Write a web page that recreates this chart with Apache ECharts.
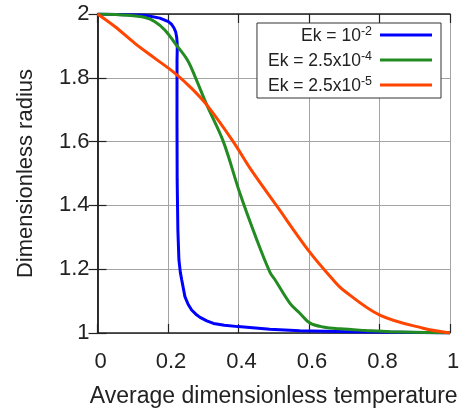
<!DOCTYPE html>
<html>
<head>
<meta charset="utf-8">
<script src="https://cdn.jsdelivr.net/npm/echarts@6/dist/echarts.min.js"></script>
<style>html,body{margin:0;padding:0;background:#fff}#c{width:465px;height:413px}</style>
</head>
<body>
<div id="c"></div>
<script>
var xTicks = [0, 0.2, 0.4, 0.6, 0.8, 1];
var yTicks = [1, 1.2, 1.4, 1.6, 1.8, 2];

var seriesNames = ['Ek = 10^-2', 'Ek = 2.5x10^-4', 'Ek = 2.5x10^-5'];
var legendBase = ['Ek = 10', 'Ek = 2.5x10', 'Ek = 2.5x10'];
var legendSup = ['-2', '-4', '-5'];

var blueX = [0, 0.135, 0.177, 0.201, 0.21, 0.217, 0.222, 0.2245, 0.2258, 0.2262, 0.2262, 0.2256, 0.2255, 0.226, 0.228, 0.231, 0.235, 0.239, 0.248, 0.257, 0.267, 0.279, 0.291, 0.31, 0.329, 0.36, 0.399, 0.489, 0.574, 0.716, 0.858, 1];
var blueY = [2, 1.996, 1.987, 1.976, 1.968, 1.956, 1.943, 1.928, 1.912, 1.897, 1.887, 1.856, 1.668, 1.480, 1.323, 1.229, 1.19, 1.166, 1.114, 1.09, 1.072, 1.059, 1.049, 1.038, 1.030, 1.024, 1.020, 1.012, 1.007, 1.004, 1.002, 1];

var greenX = [0, 0.087, 0.135, 0.163, 0.191, 0.220, 0.255, 0.277, 0.310, 0.357, 0.404, 0.452, 0.489, 0.504, 0.546, 0.574, 0.603, 0.64, 0.688, 0.76, 0.830, 1];
var greenY = [2, 1.996, 1.989, 1.976, 1.950, 1.908, 1.856, 1.803, 1.715, 1.600, 1.438, 1.292, 1.191, 1.166, 1.093, 1.062, 1.031, 1.019, 1.013, 1.008, 1.004, 1];

var orangeX = [0, 0.050, 0.106, 0.163, 0.220, 0.267, 0.310, 0.385, 0.433, 0.508, 0.601, 0.669, 0.697, 0.801, 0.924, 1];
var orangeY = [2, 1.960, 1.908, 1.861, 1.814, 1.767, 1.715, 1.600, 1.516, 1.399, 1.255, 1.166, 1.135, 1.056, 1.015, 1];

var colors = ['#0000ff', '#228b22', '#ff4500'];

function pairs(xs, ys) { return xs.map(function (x, i) { return [x, ys[i]]; }); }

var chart = echarts.init(document.getElementById('c'));
var axisCol = '#222';
var font = 'Liberation Sans, Arial, sans-serif';

function xAxisCfg(pos, main) {
  return {
    type: 'value', position: pos, min: xTicks[0], max: xTicks[xTicks.length - 1], interval: 0.2,
    axisLine: { show: true, lineStyle: { color: axisCol, width: 1.5 } },
    axisTick: { show: true, inside: true, length: 9, lineStyle: { color: axisCol, width: 1.2 } },
    axisLabel: { show: main, fontSize: 22, margin: 17.5, padding: [0, 0, 0, 6], color: '#222', fontFamily: font },
    splitLine: { show: main, lineStyle: { color: '#a3a3a3', width: 1 } },
    name: main ? 'Average dimensionless temperature' : '',
    nameLocation: 'middle', nameGap: 52,
    nameTextStyle: { fontSize: 23, color: '#222', fontFamily: font }
  };
}
function yAxisCfg(pos, main) {
  return {
    type: 'value', position: pos, min: yTicks[0], max: yTicks[yTicks.length - 1], interval: 0.2,
    axisLine: { show: true, lineStyle: { color: axisCol, width: 1.5 } },
    axisTick: { show: true, inside: true, length: 9, lineStyle: { color: axisCol, width: 1.2 } },
    axisLabel: { show: main, fontSize: 22, margin: 8, color: '#222', fontFamily: font },
    splitLine: { show: main, lineStyle: { color: '#a3a3a3', width: 1 } },
    name: main ? 'Dimensionless radius' : '',
    nameLocation: 'middle', nameGap: 61,
    nameTextStyle: { fontSize: 22, color: '#222', fontFamily: font }
  };
}

var datasets = [pairs(blueX, blueY), pairs(greenX, greenY), pairs(orangeX, orangeY)];

chart.setOption({
  animation: false,
  grid: { left: 97.5, right: 15, top: 14, bottom: 80 },
  xAxis: [xAxisCfg('bottom', true), xAxisCfg('top', false)],
  yAxis: [yAxisCfg('left', true), yAxisCfg('right', false)],
  legend: {
    orient: 'vertical', right: 24, top: 23, align: 'right',
    backgroundColor: '#fff', borderColor: '#333', borderWidth: 1,
    padding: [2, 9, 3, 11], itemGap: 5,
    icon: 'rect', itemWidth: 52, itemHeight: 3,
    data: seriesNames,
    formatter: function (name) {
      var i = seriesNames.indexOf(name);
      return '{a|' + legendBase[i] + '}{s|' + legendSup[i] + '}';
    },
    textStyle: {
      color: '#222', fontFamily: font,
      rich: {
        a: { fontSize: 17.5, lineHeight: 20, fontFamily: font, color: '#222', verticalAlign: 'bottom' },
        s: { fontSize: 12.5, lineHeight: 12, fontFamily: font, color: '#222', verticalAlign: 'top', padding: [0, 3, 0, 0] }
      }
    }
  },
  series: datasets.map(function (d, i) {
    return {
      name: seriesNames[i], type: 'line', data: d, symbol: 'none',
      smooth: i === 0 ? false : 0.35,
      lineStyle: { color: colors[i], width: 3 },
      itemStyle: { color: colors[i] },
      z: 2 + i
    };
  })
});
</script>
</body>
</html>
